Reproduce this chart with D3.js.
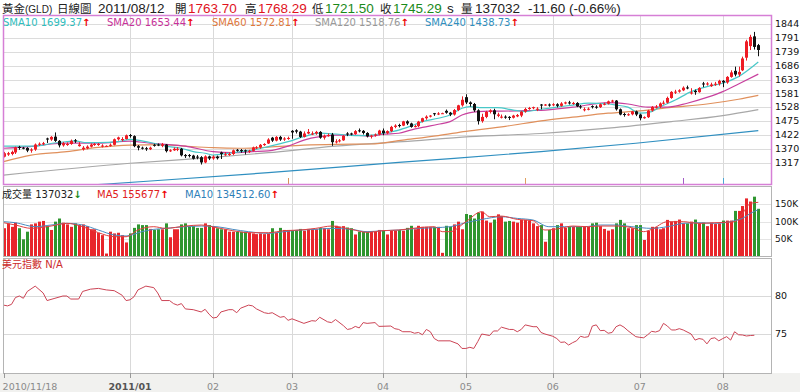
<!DOCTYPE html>
<html><head><meta charset="utf-8">
<script src="https://cdn.jsdelivr.net/npm/d3@7"></script>
<style>
body{margin:0;background:#fff}
svg{display:block}
text{font-family:"DejaVu Sans","Noto Sans CJK TC",sans-serif}
text.hd{font-family:"Liberation Sans","Noto Sans CJK TC",sans-serif}
</style></head>
<body><svg id="c" width="800" height="392"></svg>
<script>
// ---- daily OHLC (bar index 0 = 2010/11/18, weekdays) ----
const opens=[1340,1348,1350,1356,1377,1374,1373,1363,1367,1386,1389,1409,1405,1416,1400,1383,1386,1388,1402,1380,1368,1372,1378,1385,1386,1378,1380,1381,1385,1406,1405,1407,1422,1418,1380,1374,1372,1368,1385,1386,1381,1386,1361,1364,1366,1370,1346,1346,1344,1340,1338,1318,1341,1333,1340,1356,1346,1348,1350,1366,1365,1364,1359,1362,1372,1375,1384,1390,1412,1401,1415,1405,1409,1438,1440,1435,1415,1428,1425,1428,1434,1412,1419,1424,1395,1398,1402,1428,1428,1426,1440,1438,1430,1417,1420,1424,1439,1429,1437,1453,1460,1458,1474,1466,1453,1456,1473,1486,1492,1505,1503,1504,1514,1507,1500,1517,1535,1566,1546,1540,1516,1475,1491,1510,1516,1495,1488,1492,1491,1488,1493,1496,1511,1521,1525,1518,1538,1535,1538,1536,1539,1533,1542,1546,1541,1544,1531,1518,1520,1532,1530,1528,1539,1541,1550,1553,1520,1502,1499,1501,1512,1500,1486,1490,1515,1529,1530,1542,1545,1563,1586,1587,1592,1603,1580,1590,1585,1618,1615,1608,1614,1617,1628,1622,1643,1666,1652,1668,1716,1760,1797,1763.70];
const highs=[1358,1358,1363,1378,1381,1377,1376,1372,1390,1394,1396,1412,1418,1432,1403,1396,1394,1405,1407,1395,1380,1383,1390,1392,1392,1387,1383,1390,1409,1416,1414,1424,1426,1421,1384,1378,1377,1378,1389,1390,1392,1388,1368,1375,1376,1373,1350,1350,1347,1346,1342,1345,1344,1345,1344,1359,1357,1356,1367,1369,1369,1367,1366,1378,1380,1388,1391,1410,1415,1418,1419,1414,1416,1441,1444,1438,1436,1445,1436,1438,1437,1424,1428,1430,1406,1407,1422,1433,1431,1441,1447,1441,1433,1423,1428,1442,1447,1440,1457,1463,1465,1476,1478,1469,1461,1476,1488,1497,1498,1506,1509,1507,1519,1510,1521,1537,1569,1577,1550,1544,1520,1503,1514,1520,1522,1507,1500,1497,1494,1499,1502,1513,1526,1529,1530,1528,1540,1540,1542,1543,1543,1547,1549,1552,1548,1547,1536,1527,1527,1535,1535,1542,1545,1553,1556,1555,1523,1507,1505,1514,1515,1503,1493,1518,1532,1536,1546,1553,1568,1589,1594,1596,1607,1610,1600,1595,1604,1624,1623,1621,1624,1632,1631,1646,1668,1682,1682,1720,1784,1803,1814,1768.29];
const lows=[1337,1343,1345,1350,1366,1368,1357,1355,1362,1381,1384,1392,1400,1396,1375,1378,1381,1385,1392,1378,1363,1368,1375,1381,1381,1375,1379,1378,1383,1401,1398,1405,1412,1376,1364,1367,1362,1365,1378,1380,1376,1356,1358,1362,1361,1341,1335,1337,1329,1330,1310,1315,1327,1328,1329,1331,1343,1343,1346,1359,1355,1348,1354,1360,1369,1370,1381,1388,1396,1398,1400,1400,1404,1408,1428,1411,1413,1425,1422,1423,1408,1405,1416,1381,1390,1394,1400,1418,1421,1423,1432,1424,1413,1409,1416,1421,1421,1425,1433,1448,1451,1456,1460,1450,1451,1452,1470,1480,1489,1495,1498,1503,1503,1494,1496,1513,1530,1540,1530,1510,1462,1469,1486,1504,1482,1490,1485,1484,1479,1485,1490,1490,1507,1518,1520,1513,1520,1533,1530,1532,1527,1530,1539,1538,1537,1528,1522,1512,1516,1523,1522,1525,1535,1538,1545,1515,1497,1492,1495,1497,1494,1478,1484,1487,1511,1523,1525,1538,1542,1560,1578,1583,1589,1596,1576,1575,1583,1604,1610,1605,1609,1610,1604,1617,1640,1645,1644,1665,1705,1745,1747,1721.50];
const closes=[1353,1353,1358,1375,1373,1372,1363,1367,1386,1389,1391,1405,1415,1400,1383,1391,1388,1400,1398,1386,1374,1378,1386,1388,1388,1382,1381,1385,1406,1413,1407,1421,1418,1380,1374,1372,1369,1374,1383,1385,1387,1361,1364,1370,1370,1345,1342,1344,1332,1338,1318,1341,1333,1340,1334,1350,1349,1350,1364,1364,1363,1360,1362,1375,1375,1385,1388,1405,1401,1415,1405,1409,1411,1432,1435,1415,1428,1434,1428,1434,1412,1419,1422,1395,1398,1402,1419,1426,1426,1437,1438,1430,1417,1420,1424,1439,1429,1437,1453,1458,1458,1474,1466,1453,1456,1473,1486,1492,1496,1503,1504,1505,1507,1500,1517,1535,1556,1546,1540,1516,1475,1491,1510,1516,1501,1500,1492,1491,1488,1496,1498,1511,1521,1525,1528,1522,1535,1538,1536,1539,1533,1542,1546,1543,1544,1531,1529,1520,1522,1530,1528,1539,1541,1550,1553,1520,1500,1499,1501,1512,1500,1486,1490,1515,1529,1530,1542,1545,1563,1586,1587,1592,1602,1601,1584,1585,1601,1615,1618,1614,1617,1628,1622,1643,1660,1652,1662,1713,1778,1795,1756.89,1745.29];
// ---- volume (thousands) ----
const volumesK=[81,95,85,97,81,49,71,92,95,100,102,87,76,100,109,97,92,85,95,90,92,87,78,78,68,61,8,71,66,68,61,40,66,82,92,90,90,79,76,78,78,95,55,78,78,92,95,85,87,82,82,95,90,85,81,78,78,71,71,71,71,71,69,66,64,66,64,66,81,69,82,76,76,74,76,79,74,79,79,78,82,81,78,102,88,85,87,83,81,63,71,71,71,73,71,76,74,63,73,74,76,74,82,88,78,88,85,85,85,85,85,10,88,85,92,100,78,122,119,109,126,129,103,97,106,121,116,100,102,100,97,105,105,103,95,87,90,42,76,81,90,95,82,85,85,85,85,85,85,95,97,87,79,74,78,95,105,95,81,81,90,90,47,74,85,85,78,81,105,100,102,106,95,95,100,106,95,97,87,97,93,95,103,103,103,131,131,145,167,158,172,137.032];
// ---- moving averages: [bar index, value] ----
const sma10=[[0,1380],[8,1380],[12,1390],[16,1397],[18,1400],[21,1393],[24,1393],[29,1397],[32,1406],[35,1400],[38,1391],[41,1380],[45,1372],[48,1359],[51,1353],[53,1346],[57,1353],[60,1359],[63,1365],[67,1378],[72,1397],[76,1416],[80,1429],[84,1426],[89,1420],[93,1422],[96,1429],[100,1441],[103,1456],[106,1473],[110,1486],[113,1498],[116,1524],[118,1530],[121,1526],[125,1526],[129,1517],[132,1511],[136,1520],[140,1528],[144,1536],[148,1543],[153,1540],[155,1536],[158,1528],[161,1505],[164,1511],[166,1528],[170,1555],[174,1587],[178,1606],[182,1619],[186,1644],[191,1699.37]];
const sma20=[[0,1372],[8,1380],[12,1388],[16,1391],[24,1391],[32,1399],[37,1391],[41,1387],[46,1380],[53,1359],[58,1355],[63,1359],[67,1362],[72,1380],[76,1403],[80,1416],[84,1422],[89,1422],[93,1418],[96,1425],[100,1429],[103,1441],[106,1451],[110,1463],[113,1473],[116,1498],[120,1511],[123,1513],[126,1513],[132,1515],[136,1516],[144,1528],[153,1545],[158,1540],[163,1528],[168,1528],[173,1543],[178,1565],[182,1587],[186,1616],[191,1653.44]];
const sma60=[[0,1321],[7,1346],[16,1359],[24,1375],[32,1384],[40,1386],[46,1380],[53,1374],[60,1372],[67,1376],[76,1384],[84,1387],[93,1388],[101,1403],[110,1420],[117,1436],[127,1455],[136,1476],[144,1490],[153,1505],[161,1514],[169,1527],[178,1540],[186,1558],[191,1572.81]];
const sma120=[[0,1270],[32,1315],[53,1337],[67,1355],[84,1380],[101,1397],[118,1416],[136,1428],[153,1448],[169,1473],[182,1496],[191,1518.76]];
const sma240=[[0,1209],[26,1236],[67,1279],[100,1318],[136,1359],[160,1391],[191,1438.73]];
const volMA5=[[0,96.9],[3,90.2],[7,80.6],[12,87.3],[16,95.0],[20,85.4],[24,68.1],[28,56.5],[31,56.5],[34,75.8],[38,85.4],[41,80.6],[46,87.3],[50,90.2],[54,82.5],[58,73.9],[62,68.1],[67,68.1],[71,73.9],[75,75.8],[79,80.6],[83,87.3],[88,77.7],[92,69.1],[96,73.9],[100,75.8],[105,82.5],[109,85.4],[111,71.0],[113,71.0],[117,99.8],[121,128.6],[123,114.1],[126,116.0],[130,106.4],[134,102.6],[137,75.8],[141,80.6],[144,87.3],[148,85.4],[151,87.3],[155,87.3],[159,82.5],[162,71.0],[164,77.7],[168,99.8],[172,99.8],[176,95.0],[180,96.9],[185,99.8],[187,123.8],[189,152.6],[191,155.677]];
const volMA10=[[0,99.8],[3,96.9],[8,85.4],[12,90.2],[16,95.0],[20,90.2],[24,75.8],[28,61.4],[31,58.6],[35,71.0],[38,77.7],[41,80.6],[46,85.4],[50,87.3],[54,85.4],[58,77.7],[62,71.0],[67,66.2],[71,71.0],[75,75.8],[79,77.7],[83,80.6],[88,77.7],[92,71.0],[96,73.9],[100,75.8],[105,80.6],[109,82.5],[113,85.4],[117,96.9],[121,106.4],[126,114.1],[130,109.3],[134,104.6],[138,85.4],[142,85.4],[147,85.4],[151,90.2],[155,90.2],[159,85.4],[164,80.6],[168,85.4],[172,95.0],[176,96.9],[180,95.0],[185,102.6],[187,109.3],[189,123.8],[191,134.5126]];
// ---- US dollar index: [bar index, value] ----
const usdIndex=[[0,78.8],[1,78.7],[2,78.9],[3,79.8],[4,80.0],[5,79.7],[6,80.6],[8,81.3],[10,80.4],[11,79.4],[13,79.7],[15,80.0],[16,80.0],[17,79.6],[19,79.6],[20,80.6],[22,80.9],[24,81.0],[26,80.8],[28,80.7],[30,80.1],[31,79.4],[32,79.5],[33,79.9],[34,80.8],[36,81.3],[38,81.1],[39,80.4],[40,79.4],[42,79.4],[43,79.0],[44,78.8],[45,79.0],[46,78.3],[48,78.2],[50,77.9],[51,78.25],[52,77.6],[53,77.1],[54,77.2],[55,77.9],[57,78.2],[58,78.2],[59,77.8],[60,78.4],[62,78.8],[63,78.7],[64,78.3],[66,77.8],[67,77.7],[68,77.8],[70,77.2],[71,77.3],[72,76.8],[73,77.0],[75,76.6],[76,76.4],[78,76.75],[79,76.7],[80,77.2],[82,76.6],[83,76.5],[84,76.9],[86,76.1],[87,75.6],[88,75.7],[89,76.0],[90,75.8],[91,76.5],[92,76.4],[94,76.5],[95,76.0],[98,76.05],[99,75.7],[100,75.6],[101,75.3],[103,75.3],[104,75.1],[105,75.2],[106,74.9],[107,75.6],[108,75.3],[109,74.4],[110,74.1],[113,74.1],[115,73.7],[116,73.1],[117,73.1],[118,73.25],[119,73.1],[120,74.0],[121,75.0],[123,74.8],[124,75.4],[125,75.4],[126,75.9],[128,75.6],[129,75.6],[130,75.3],[131,75.6],[132,76.2],[134,75.96],[135,75.96],[136,75.2],[137,75.0],[139,74.7],[140,74.4],[141,73.9],[142,73.95],[143,73.55],[144,73.86],[145,74.1],[146,74.7],[147,74.56],[148,74.65],[149,76.05],[150,76.2],[151,75.44],[152,75.48],[153,75.1],[154,75.2],[155,75.96],[156,76.2],[157,75.9],[158,75.44],[160,74.65],[161,74.56],[162,74.5],[163,74.9],[164,75.35],[165,75.26],[166,75.44],[167,76.4],[168,76.05],[169,75.53],[170,75.53],[171,75.7],[172,75.53],[174,75.0],[175,74.2],[176,74.4],[177,74.3],[178,73.7],[179,74.4],[180,74.5],[181,74.1],[182,74.4],[183,74.65],[184,74.2],[185,75.3],[186,74.9],[187,74.87],[188,74.74],[189,74.8],[190,74.83]];
// ---- ticks / markers ----
const priceTicks=[1844,1791,1739,1686,1633,1581,1528,1475,1422,1370,1317];
const volTicksK=[150,100,50];
const volTickLabels=["150K","100K","50K"];
const usdTicks=[80,75];
const monthTickIdx=[0,32,53,73,96,117,139,161,182];
const monthTickLabels=["2010/11/18","2011/01","02","03","04","05","06","07","08"];
const eventIdx=[72,132,172,182];
const eventColors=["#d9925a","#e0a060","#a45cc8","#4aa8d8"];
const maLegend=[["SMA10","1699.37","#2fbdbd"],["SMA20","1653.44","#c8329a"],["SMA60","1572.81","#e0783c"],["SMA120","1518.76","#999999"],["SMA240","1438.73","#2f8fc0"]];
const header=[["黃金",2,11.5,"#222"],["(GLD)",25,10,"#222"],["日線圖",57,11.5,"#222"],["2011/08/12",98,13.5,"#222"],["開",175,11.5,"#222"],["1763.70",188,13.5,"#e0141e"],["高",245,11.5,"#222"],["1768.29",258,13.5,"#e0141e"],["低",312,11.5,"#222"],["1721.50",325,13.5,"#1a8a1a"],["收",380,11.5,"#222"],["1745.29",393,13.5,"#1a8a1a"],["s",447,13.5,"#222"],["量",461,11.5,"#222"],["137032",475,13.5,"#222"],["-11.60 (-0.66%)",528,13.5,"#222"]];

const svg=d3.select("#c");
const N=closes.length;
const L=3,R=772;
const x=d3.scaleLinear().domain([0,N-1]).range([3.6,758.3]);
const yP=d3.scaleLinear().domain([1317,1844]).range([162.7,24]);
const yV=d3.scaleLinear().domain([0,150]).range([256.3,204.3]);
const yU=d3.scaleLinear().domain([75,80]).range([334,296]);
const P1={t:15,b:184},P2={t:186,b:256},P3={t:258,b:373};

svg.append("rect").attr("x",0).attr("y",373).attr("width",800).attr("height",19).attr("fill","#f1f1ef");

const defs=svg.append("defs");
[["c1",P1],["c2",P2],["c3",P3]].forEach(([id,p])=>{
  defs.append("clipPath").attr("id",id).append("rect").attr("x",L).attr("y",p.t).attr("width",R-L).attr("height",p.b-p.t);
});

[P1,P2,P3].forEach(p=>{
  svg.append("g").selectAll("line").data(monthTickIdx.slice(1)).join("line")
    .attr("x1",d=>Math.round(x(d))+0.5).attr("x2",d=>Math.round(x(d))+0.5)
    .attr("y1",p.t).attr("y2",p.b).attr("stroke","#d9d9d9").attr("stroke-width",1);
});
svg.append("g").selectAll("line").data(priceTicks).join("line")
  .attr("x1",L).attr("x2",R).attr("y1",d=>Math.round(yP(d))+0.5).attr("y2",d=>Math.round(yP(d))+0.5)
  .attr("stroke","#dcdcdc");
svg.append("g").selectAll("line").data(volTicksK).join("line")
  .attr("x1",L).attr("x2",R).attr("y1",d=>Math.round(yV(d))+0.5).attr("y2",d=>Math.round(yV(d))+0.5)
  .attr("stroke","#e4e4e4");
svg.append("g").selectAll("line").data(usdTicks).join("line")
  .attr("x1",L).attr("x2",R).attr("y1",d=>Math.round(yU(d))+0.5).attr("y2",d=>Math.round(yU(d))+0.5)
  .attr("stroke","#d9d9d9");

// ---- main panel ----
const g1=svg.append("g").attr("clip-path","url(#c1)");
const line=d3.line().x(d=>x(d[0])).y(d=>yP(d[1])).curve(d3.curveMonotoneX);
[[sma240,"#2f8fc0"],[sma120,"#a8a8a8"],[sma60,"#e0905c"],[sma20,"#c8409e"],[sma10,"#48c8c8"]].forEach(([d,c])=>{
  g1.append("path").datum(d).attr("d",line).attr("fill","none").attr("stroke",c).attr("stroke-width",1.2);
});
const bars=d3.range(N).map(i=>({i,o:opens[i],h:highs[i],l:lows[i],c:closes[i],up:closes[i]>=opens[i]}));
const cg=g1.append("g").selectAll("g").data(bars).join("g");
cg.append("line").attr("x1",d=>Math.round(x(d.i))+0.5).attr("x2",d=>Math.round(x(d.i))+0.5)
  .attr("y1",d=>yP(d.h)).attr("y2",d=>yP(d.l)).attr("stroke",d=>d.up?"#ee1c25":"#111").attr("stroke-width",1);
cg.append("rect").attr("x",d=>Math.round(x(d.i))-1).attr("width",3)
  .attr("y",d=>yP(Math.max(d.o,d.c))).attr("height",d=>Math.max(1,Math.abs(yP(d.o)-yP(d.c))))
  .attr("fill",d=>d.up?"#ee1c25":"#111");
svg.append("g").selectAll("line").data(eventIdx).join("line")
  .attr("x1",d=>Math.round(x(d))+0.5).attr("x2",d=>Math.round(x(d))+0.5).attr("y1",178).attr("y2",184)
  .attr("stroke",(d,i)=>eventColors[i]).attr("stroke-width",1);

// ---- volume panel ----
const g2=svg.append("g").attr("clip-path","url(#c2)");
g2.selectAll("rect").data(bars).join("rect")
  .attr("x",d=>Math.round(x(d.i))-1).attr("width",3)
  .attr("y",d=>yV(volumesK[d.i])).attr("height",d=>yV(0)-yV(volumesK[d.i]))
  .attr("fill",d=>d.up?"#e8262b":"#2f962f");
const lineV=d3.line().x(d=>x(d[0])).y(d=>yV(d[1])).curve(d3.curveMonotoneX);
g2.append("path").datum(volMA10).attr("d",lineV).attr("fill","none").attr("stroke","#4a8cc0").attr("stroke-width",1);
g2.append("path").datum(volMA5).attr("d",lineV).attr("fill","none").attr("stroke","#e04040").attr("stroke-width",1);

// ---- dollar index panel ----
const g3=svg.append("g").attr("clip-path","url(#c3)");
const lineU=d3.line().x(d=>x(d[0])).y(d=>yU(d[1]));
g3.append("path").datum(usdIndex).attr("d",lineU).attr("fill","none").attr("stroke","#cc4455").attr("stroke-width",1);

// panel borders
svg.append("rect").attr("x",L+0.5).attr("y",P2.t+0.5).attr("width",R-L-1).attr("height",P2.b-P2.t).attr("fill","none").attr("stroke","#b4b4b4");
svg.append("rect").attr("x",L+0.5).attr("y",P3.t+0.5).attr("width",R-L-1).attr("height",P3.b-P3.t).attr("fill","none").attr("stroke","#b4b4b4");
svg.append("rect").attr("x",L+0.5).attr("y",P1.t+0.5).attr("width",R-L-1).attr("height",P1.b-P1.t).attr("fill","none").attr("stroke","#d67fd6").attr("stroke-width",1.5);

// bottom ticks & labels
svg.append("g").selectAll("line").data(monthTickIdx).join("line")
  .attr("x1",d=>Math.round(x(d))+0.5).attr("x2",d=>Math.round(x(d))+0.5).attr("y1",373).attr("y2",378).attr("stroke","#999");
svg.append("g").selectAll("text").data(monthTickIdx).join("text")
  .attr("x",(d,i)=>i===0?x(d)-1:x(d)).attr("y",390)
  .attr("text-anchor",(d,i)=>i===0?"start":"middle")
  .attr("font-size",9.5).attr("font-weight",(d,i)=>i===1?"bold":"normal")
  .attr("fill",(d,i)=>i===1?"#555":"#8a8a8a")
  .text((d,i)=>monthTickLabels[i]);

// right axis labels
svg.append("g").selectAll("text").data(priceTicks).join("text")
  .attr("x",775).attr("y",d=>yP(d)).attr("dy","0.35em").attr("font-size",9.5).attr("fill","#111").text(d=>d);
svg.append("g").selectAll("text").data(volTicksK).join("text")
  .attr("x",775).attr("y",d=>yV(d)).attr("dy","0.35em").attr("font-size",9).attr("fill","#111").text((d,i)=>volTickLabels[i]);
svg.append("g").selectAll("text").data(usdTicks).join("text")
  .attr("x",775).attr("y",d=>yU(d)).attr("dy","0.35em").attr("font-size",9.5).attr("fill","#111").text(d=>d);

// header
svg.append("g").selectAll("text").data(header).join("text").attr("class","hd")
  .attr("x",d=>d[1]).attr("y",13).attr("font-size",d=>d[2]).attr("fill",d=>d[3]).text(d=>d[0]);

// MA legend
let lx=[3,107,212,315,425];
maLegend.forEach((m,k)=>{
  const t=svg.append("text").attr("x",lx[k]).attr("y",26).attr("font-size",10);
  t.append("tspan").attr("fill",m[2]).text(m[0]+" "+m[1]);
  t.append("tspan").attr("fill","#e00").attr("font-weight","bold").text("↑");
});
// volume legend
const vl=svg.append("text").attr("x",2).attr("y",198).attr("font-size",10);
vl.append("tspan").attr("fill","#222").text("成交量 137032");
vl.append("tspan").attr("fill","#1a8a1a").attr("font-weight","bold").text("↓");
const vl2=svg.append("text").attr("x",97).attr("y",198).attr("font-size",10);
vl2.append("tspan").attr("fill","#e02020").text("MA5 155677");
vl2.append("tspan").attr("fill","#e00").attr("font-weight","bold").text("↑");
const vl3=svg.append("text").attr("x",185).attr("y",198).attr("font-size",10);
vl3.append("tspan").attr("fill","#2f7fb8").text("MA10 134512.60");
vl3.append("tspan").attr("fill","#e00").attr("font-weight","bold").text("↑");
svg.append("text").attr("x",2).attr("y",268).attr("font-size",10).attr("fill","#cc2b2b").text("美元指數 N/A");
</script></body></html>
